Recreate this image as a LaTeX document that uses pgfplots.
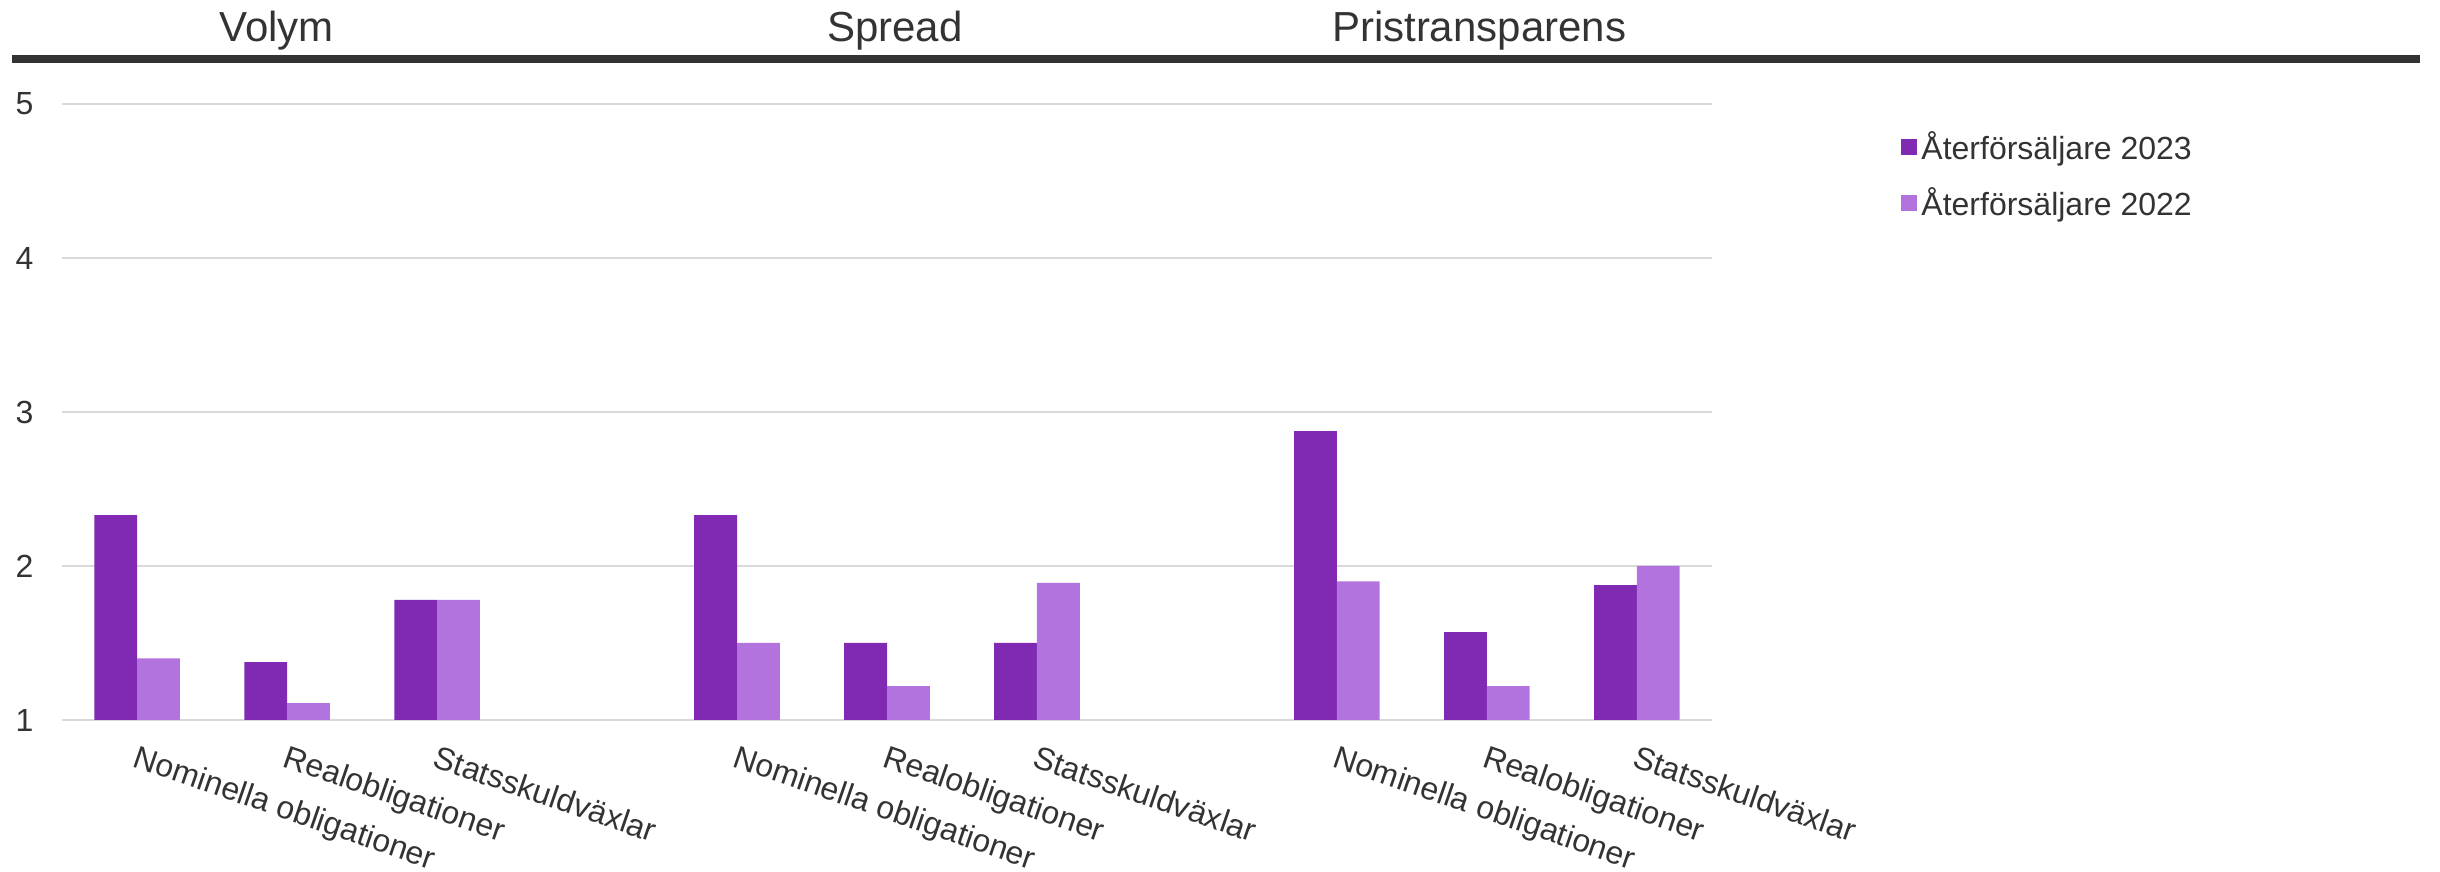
\documentclass[border=0pt]{standalone}
\usepackage{fontspec}
\setmainfont{Liberation Sans}
\usepackage{pgfplots}
\pgfplotsset{compat=1.18}
\definecolor{dark}{HTML}{8029B3}
\definecolor{light}{HTML}{B373DE}
\definecolor{txt}{HTML}{333333}
\definecolor{gridc}{HTML}{D9D9D9}

\begin{document}
\begin{tikzpicture}
\useasboundingbox (0,0) rectangle (1220pt,436pt);
\begin{axis}[
  at={(31.1pt,76pt)}, anchor=south west,
  scale only axis, width=824.8pt, height=308pt,
  xmin=-0.5, xmax=10.5, ymin=1, ymax=5,
  ybar=0pt, bar width=21.4pt,
  axis line style={draw=none},
  tick style={draw=none},
  ymajorgrids, grid style={gridc, line width=1pt},
  ytick={1,2,3,4,5},
  xtick={0,1,2,4,5,6,8,9,10},
  xticklabels={Nominella obligationer, Realobligationer, Statsskuldväxlar,
               Nominella obligationer, Realobligationer, Statsskuldväxlar,
               Nominella obligationer, Realobligationer, Statsskuldväxlar},
  /pgf/number format/assume math mode=true,
  ticklabel style={font=\fontsize{16}{19}\selectfont, text=txt},
  xticklabel style={rotate=-19, anchor=north west, xshift=0pt, yshift=-3.7pt},
  yticklabel style={xshift=-10.8pt},
  clip mode=individual,
  legend style={at={(1.1147,0.9627)}, anchor=north west, draw=none, fill=none,
    inner sep=0pt, row sep=8.5pt, font=\fontsize{16}{19}\selectfont, text=txt,
    cells={anchor=west}},
  legend image code/.code={\fill[#1] (0pt,-4pt) rectangle (8pt,4pt);},
]
\addplot[fill=dark, draw=none] coordinates {
  (0,2.33) (1,1.375) (2,1.78)
  (4,2.33) (5,1.5) (6,1.5)
  (8,2.875) (9,1.57) (10,1.875)};
\addlegendentry{Återförsäljare 2023}
\addplot[fill=light, draw=none] coordinates {
  (0,1.40) (1,1.11) (2,1.78)
  (4,1.50) (5,1.22) (6,1.89)
  (8,1.90) (9,1.22) (10,2.0)};
\addlegendentry{Återförsäljare 2022}
\node[font=\fontsize{21}{25}\selectfont, text=txt, anchor=base, yshift=31pt] at (axis cs:0.93,5) {Volym};
\node[font=\fontsize{21}{25}\selectfont, text=txt, anchor=base, yshift=31pt] at (axis cs:5.053,5) {Spread};
\node[font=\fontsize{21}{25}\selectfont, text=txt, anchor=base, yshift=31pt] at (axis cs:8.948,5) {Pristransparens};
\end{axis}
\draw[line width=4pt, txt] (6pt,406.5pt) -- (1210pt,406.5pt);
\end{tikzpicture}
\end{document}
